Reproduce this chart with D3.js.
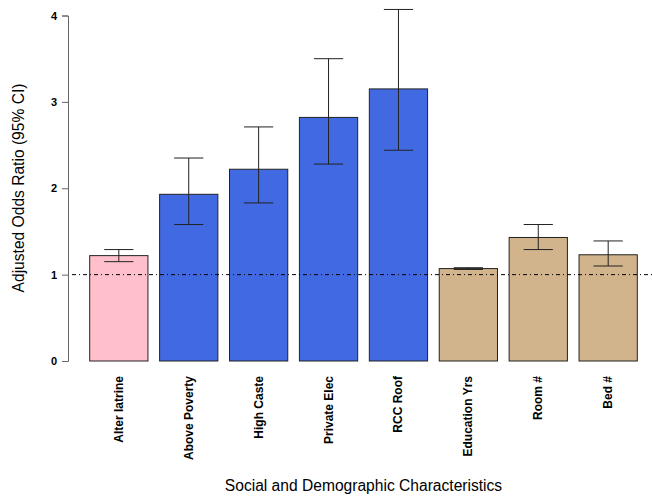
<!DOCTYPE html>
<html><head><meta charset="utf-8">
<script src="https://cdn.jsdelivr.net/npm/d3@7"></script>
<style>body{margin:0;background:#fff}svg{display:block}text{font-family:"Liberation Sans",Arial,Helvetica,sans-serif}</style>
</head><body>
<script>
const categories = ["Alter latrine","Above Poverty","High Caste","Private Elec","RCC Roof","Education Yrs","Room #","Bed #"];
const oddsRatio = [1.22, 1.93, 2.22, 2.82, 3.15, 1.07, 1.43, 1.23];
const ciLower   = [1.15, 1.58, 1.83, 2.28, 2.44, 1.06, 1.29, 1.10];
const ciUpper   = [1.29, 2.35, 2.71, 3.50, 4.07, 1.08, 1.58, 1.39];
const barColors = ["#FFC0CB","#4169E1","#4169E1","#4169E1","#4169E1","#D2B48C","#D2B48C","#D2B48C"];
const yTicks = [0,1,2,3,4];
const refValue = 1;

const W = 652, H = 498;
const svg = d3.select("body").append("svg").attr("width", W).attr("height", H);

const x = d3.scaleBand().domain(categories).range([89.7, 637.3]).paddingInner(1/6).paddingOuter(0);
const y = d3.scaleLinear().domain([0,4]).range([361, 15.5]);

// bars
svg.append("g").selectAll("rect").data(categories).join("rect")
  .attr("x", d => x(d)).attr("width", x.bandwidth())
  .attr("y", (d,i) => y(oddsRatio[i])).attr("height", (d,i) => y(0) - y(oddsRatio[i]))
  .attr("fill", (d,i) => barColors[i]).attr("stroke", "#222").attr("stroke-width", 1);

// reference line
svg.append("line").attr("x1", 68).attr("x2", 659).attr("y1", y(refValue)).attr("y2", y(refValue))
  .attr("stroke", "#000").attr("stroke-width", 1).attr("stroke-dasharray", "1,3,4,3");

// error bars
const eb = svg.append("g").attr("stroke", "#222").attr("stroke-width", 1);
categories.forEach((c,i) => {
  const cx = x(c) + x.bandwidth()/2;
  eb.append("line").attr("x1", cx).attr("x2", cx).attr("y1", y(ciLower[i])).attr("y2", y(ciUpper[i]));
  eb.append("line").attr("x1", cx-14.6).attr("x2", cx+14.6).attr("y1", y(ciLower[i])).attr("y2", y(ciLower[i]));
  eb.append("line").attr("x1", cx-14.6).attr("x2", cx+14.6).attr("y1", y(ciUpper[i])).attr("y2", y(ciUpper[i]));
});

// y axis
const yAxis = svg.append("g").attr("transform", "translate(68,0)")
  .call(d3.axisLeft(y).tickValues(yTicks).tickFormat(d3.format("d")).tickSize(6).tickPadding(5));
yAxis.select(".domain").attr("stroke", "#666");
yAxis.selectAll(".tick line").attr("stroke", "#666");
yAxis.selectAll(".tick text").attr("font-size", 11).attr("font-weight", "bold").attr("fill", "#000");

// x labels
svg.append("g").selectAll("text").data(categories).join("text")
  .attr("transform", d => `translate(${x(d)+x.bandwidth()/2+4},376) rotate(-90)`)
  .attr("text-anchor", "end").attr("font-size", 12).attr("font-weight", "bold").text(d => d);

// titles
svg.append("text").attr("x", 363.5).attr("y", 491).attr("text-anchor", "middle").attr("font-size", 15.6)
  .text("Social and Demographic Characteristics");
svg.append("text").attr("transform", "translate(24,188) rotate(-90)").attr("text-anchor", "middle").attr("font-size", 15.6)
  .text("Adjusted Odds Ratio (95% CI)");
</script>
</body></html>
